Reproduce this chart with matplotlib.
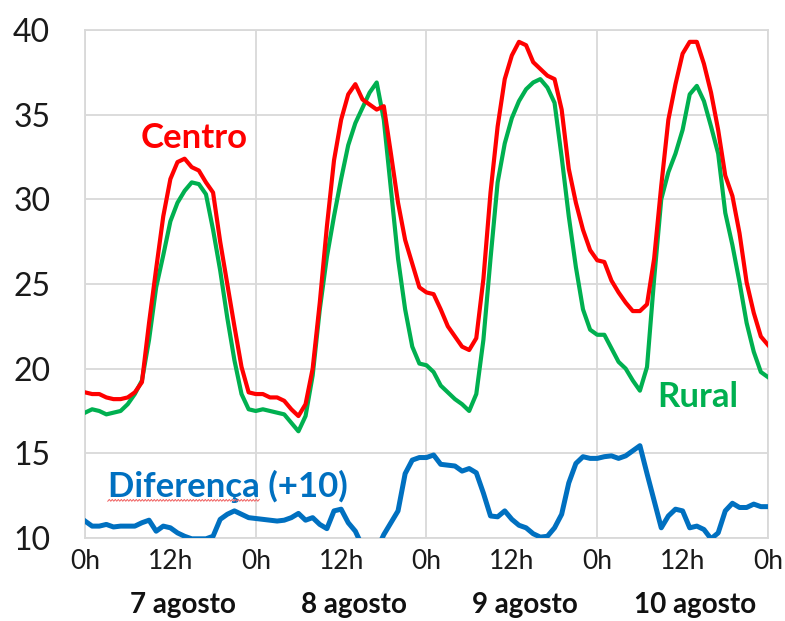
import numpy as np
import matplotlib
matplotlib.use("Agg")
import matplotlib.pyplot as plt
from matplotlib.lines import Line2D
from matplotlib.transforms import IdentityTransform, blended_transform_factory

plt.rcParams['font.family'] = ['Lato', 'DejaVu Sans']

# Hourly temperatures, 7-10 August (0h of day 1 .. 0h of day 5)
hours = np.arange(97)

centro = [
    18.6, 18.5, 18.5, 18.3, 18.2, 18.2, 18.3, 18.6, 19.2, 22.7, 25.9, 29.0,
    31.2, 32.2, 32.4, 31.9, 31.7, 31.0, 30.4, 27.5, 25.0, 22.5, 20.1, 18.6,
    18.5, 18.5, 18.3, 18.3, 18.1, 17.6, 17.2, 17.9, 20.0, 23.9, 28.4, 32.3,
    34.7, 36.2, 36.8, 35.9, 35.6, 35.3, 35.5, 32.7, 29.8, 27.6, 26.2, 24.8,
    24.5, 24.4, 23.5, 22.5, 21.9, 21.3, 21.1, 21.8, 25.3, 30.4, 34.3, 37.1,
    38.5, 39.3, 39.1, 38.1, 37.7, 37.3, 37.1, 35.3, 31.8, 29.8, 28.2, 27.0,
    26.4, 26.3, 25.2, 24.5, 23.9, 23.4, 23.4, 23.8, 26.5, 30.8, 34.7, 36.8,
    38.6, 39.3, 39.3, 38.0, 36.3, 34.1, 31.4, 30.2, 28.0, 25.1, 23.3, 21.9,
    21.4,
]

rural = [
    17.4, 17.6, 17.5, 17.3, 17.4, 17.5, 17.9, 18.5, 19.3, 21.7, 24.8, 26.7,
    28.7, 29.8, 30.5, 31.0, 30.9, 30.3, 28.2, 25.8, 23.0, 20.5, 18.5, 17.6,
    17.5, 17.6, 17.5, 17.4, 17.3, 16.8, 16.3, 17.2, 19.6, 23.5, 26.6, 29.0,
    31.2, 33.2, 34.5, 35.4, 36.3, 36.9, 34.7, 30.6, 26.5, 23.5, 21.3, 20.3,
    20.2, 19.8, 19.0, 18.6, 18.2, 17.9, 17.5, 18.5, 21.7, 26.5, 31.0, 33.3,
    34.8, 35.8, 36.5, 36.9, 37.1, 36.6, 35.7, 32.5, 29.0, 26.0, 23.5, 22.3,
    22.0, 22.0, 21.2, 20.4, 20.0, 19.3, 18.7, 20.1, 25.3, 30.0, 31.6, 32.7,
    34.1, 36.2, 36.7, 35.8, 34.3, 32.7, 29.2, 27.3, 25.1, 22.7, 21.0, 19.8,
    19.5,
]

diferenca = [
    11.0, 10.7, 10.7, 10.8, 10.65, 10.7, 10.7, 10.7, 10.9, 11.05, 10.4, 10.7,
    10.6, 10.3, 10.1, 9.95, 9.95, 9.95, 10.1, 11.1, 11.4, 11.6, 11.4, 11.2,
    11.15, 11.1, 11.05, 11.0, 11.05, 11.2, 11.45, 11.05, 11.2, 10.8, 10.55, 11.6,
    11.7, 10.9, 10.4, 9.5, 9.0, 9.3, 10.2, 10.9, 11.6, 13.8, 14.6, 14.75,
    14.75, 14.9, 14.35, 14.3, 14.25, 13.95, 14.1, 13.85, 12.65, 11.3, 11.25, 11.6,
    11.1, 10.75, 10.6, 10.25, 10.05, 10.1, 10.6, 11.4, 13.25, 14.4, 14.8, 14.7,
    14.7, 14.8, 14.85, 14.7, 14.85, 15.15, 15.45, 13.8, 12.2, 10.6, 11.3, 11.7,
    11.6, 10.6, 10.7, 10.5, 9.95, 10.3, 11.6, 12.05, 11.8, 11.8, 12.0, 11.85,
    11.85,
]

hour_ticks = np.arange(0, 97, 12)
hour_labels = ["0h", "12h"] * 4 + ["0h"]
day_labels = ["7 agosto", "8 agosto", "9 agosto", "10 agosto"]
y_ticks = np.arange(10, 41, 5)

RED = "#FF0000"
GREEN = "#00B050"
BLUE = "#0070C0"
GRID = "#D9D9D9"

fig = plt.figure(figsize=(7.85, 6.21), dpi=100)
ax = fig.add_axes([0.1083, 0.1337, 0.8700, 0.8180])

ax.plot(hours, diferenca, color=BLUE, lw=3.6, solid_joinstyle="round", zorder=3)
ax.plot(hours, rural, color=GREEN, lw=3.0, solid_joinstyle="round", zorder=4)
ax.plot(hours, centro, color=RED, lw=3.0, solid_joinstyle="round", zorder=5)

ax.set_xlim(0, 96)
ax.set_ylim(10, 40)

# Gridlines: one vertical line per midnight, horizontal every 5 degrees
for d in range(0, 97, 24):
    ax.axvline(d, color=GRID, lw=1.3, zorder=1)
for v in y_ticks:
    ax.axhline(v, color=GRID, lw=1.3, zorder=1)
for s in ax.spines.values():
    s.set_color(GRID)
    s.set_linewidth(1.3)

ax.set_yticks(y_ticks)
ax.set_yticklabels([str(v) for v in y_ticks], fontsize=23, color="#1a1a1a")
ax.set_xticks(hour_ticks)
ax.set_xticklabels(hour_labels, fontsize=19, color="#1a1a1a")
ax.tick_params(axis="y", length=0, pad=25)
ax.tick_params(axis="x", length=0, pad=8)

# Day names under the noon ticks
trans = blended_transform_factory(ax.transData, ax.transAxes)
for i, name in enumerate(day_labels):
    ax.text(12 + 24 * i + 1.8, -0.132, name, transform=trans, ha="center",
            va="center", fontsize=20, fontweight="bold", color="#111111")

# Series names
ax.text(15.3, 33.6, "Centro", color=RED, fontsize=25, fontweight="bold",
        ha="center", va="center")
ax.text(86.2, 18.3, "Rural", color=GREEN, fontsize=25, fontweight="bold",
        ha="center", va="center")
dif = ax.text(3.2, 13.05, "Diferença (+10)", color=BLUE, fontsize=25,
              fontweight="bold", ha="left", va="center")

# Wavy red underline below the word "Diferença"
fig.canvas.draw()
renderer = fig.canvas.get_renderer()
probe = ax.text(3.2, 13.05, "Diferença", fontsize=25, fontweight="bold",
                ha="left", va="center")
bb = probe.get_window_extent(renderer)
probe.remove()
xs = np.arange(bb.x0, bb.x1, 1.5)
ys = bb.y0 + 2.0 + 0.9 * ((np.arange(len(xs)) % 2) * 2 - 1)
fig.add_artist(Line2D(xs, ys, transform=IdentityTransform(), color="#F06060",
                      lw=0.7, zorder=6))

fig.savefig("out.png", dpi=100)
